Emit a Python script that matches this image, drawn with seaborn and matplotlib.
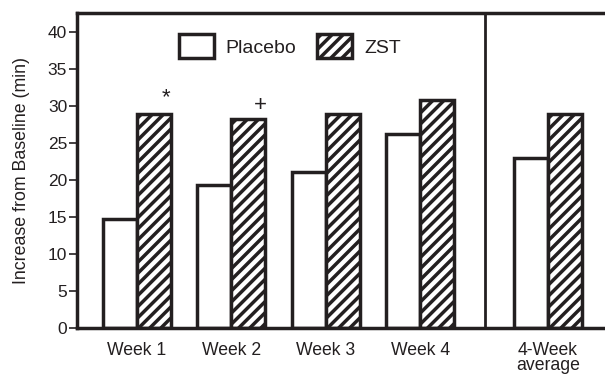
import matplotlib
matplotlib.use("Agg")
import matplotlib.pyplot as plt
from matplotlib.patches import Patch
import pandas as pd
import seaborn as sns

# Increase in exercise duration from baseline (minutes)
periods = ["Week 1", "Week 2", "Week 3", "Week 4", "4-Week\naverage"]
placebo = [14.7, 19.4, 21.1, 26.3, 23.0]
zst = [29.0, 28.3, 28.9, 30.9, 28.9]
markers = ["*", "+", "", "", ""]  # significance marks on the ZST bars

# group centres: the 4-week average sits apart, past a divider
centres = [0, 1, 2, 3, 4.35]
divider = 3.68

INK = "#231f20"

sns.set_theme(style="white")
plt.rcParams["font.family"] = ["Liberation Sans", "DejaVu Sans"]
plt.rcParams["hatch.linewidth"] = 2.5
plt.rcParams["hatch.color"] = INK

df = pd.DataFrame({
    "pos": centres * 2,
    "value": placebo + zst,
    "group": ["Placebo"] * len(placebo) + ["ZST"] * len(zst),
})

fig = plt.figure(figsize=(6.05, 3.75), dpi=100)
ax = fig.add_axes([0.127, 0.125, 0.88, 0.84])

sns.barplot(data=df, x="pos", y="value", hue="group", native_scale=True,
            palette={"Placebo": "white", "ZST": "white"}, width=0.72,
            edgecolor=INK, linewidth=2.5, legend=False, ax=ax, errorbar=None)

for bar in ax.containers[1]:
    bar.set_hatch("///")

for bar, mark in zip(ax.containers[1], markers):
    if mark:
        x = bar.get_x() + bar.get_width() * 0.85
        y = bar.get_height() + (2.1 if mark == "*" else 1.8)
        ax.text(x, y, mark, ha="center", va="center", fontsize=16, color=INK)

ax.axvline(divider, color=INK, lw=2)

ax.set_xlim(-0.635, 5.0)
ax.set_ylim(0, 42.6)
ax.set_yticks(range(0, 41, 5))
ax.set_xticks(centres)
ax.set_xticklabels(periods, linespacing=0.86)
ax.set_xlabel("")
ax.set_ylabel("Increase from Baseline (min)", fontsize=12.8, color=INK)
ax.yaxis.set_label_coords(-0.088, 0.5)

ax.tick_params(axis="y", length=6, width=1.2, color=INK, labelsize=12.5,
               labelcolor=INK, left=True, pad=1)
ax.tick_params(axis="x", length=0, labelsize=12.7, labelcolor=INK, pad=10)

for side in ("left", "top", "bottom"):
    ax.spines[side].set_color(INK)
    ax.spines[side].set_linewidth(2.5)
ax.spines["right"].set_visible(False)

handles = [
    Patch(facecolor="white", edgecolor=INK, linewidth=2.5, label="Placebo"),
    Patch(facecolor="white", edgecolor=INK, linewidth=2.5, hatch="///", label="ZST"),
]
ax.legend(handles=handles, ncol=2, frameon=False, fontsize=14,
          handlelength=1.8, handleheight=1.55, handletextpad=0.6,
          columnspacing=1.1, loc="center", bbox_to_anchor=(0.40, 0.895),
          labelcolor=INK)

fig.savefig("out.png", dpi=100)
